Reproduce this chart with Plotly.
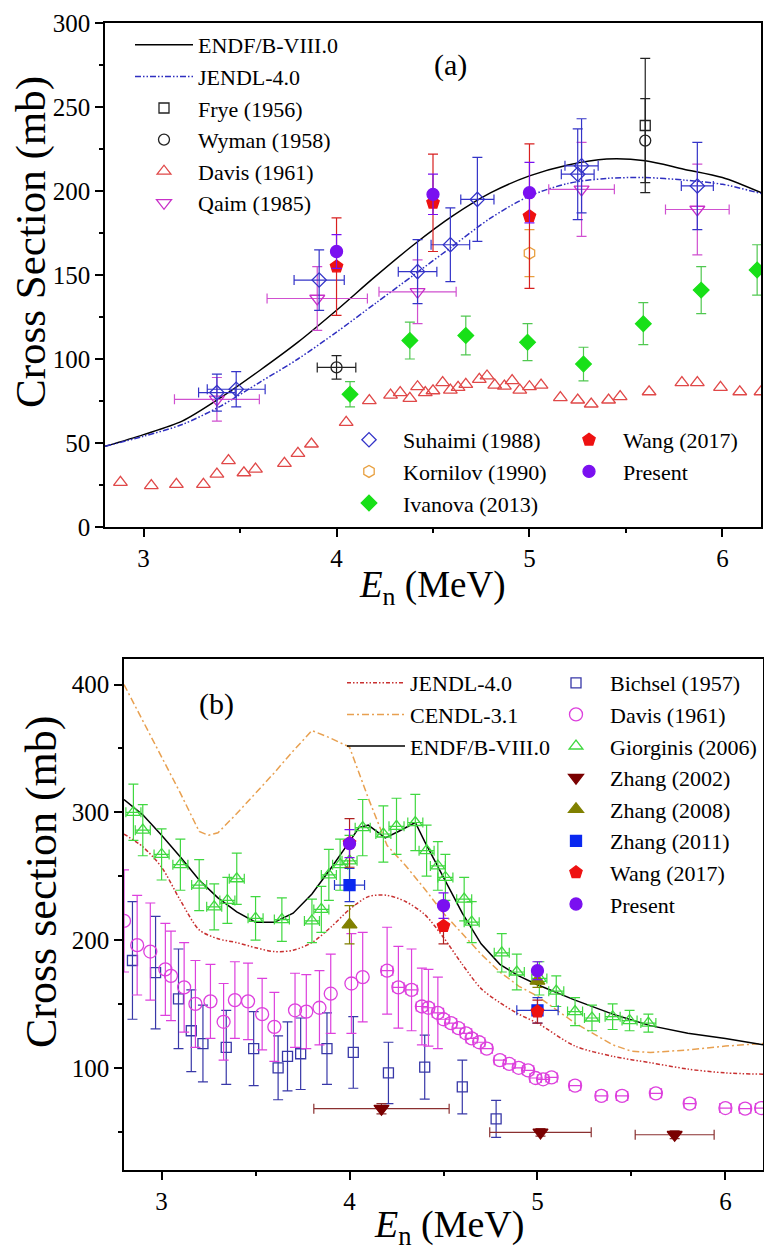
import plotly.graph_objects as go

SERIF = "Liberation Serif"

# ---------------- panel (a) data ----------------
e_grid_a = [2.8, 3.0, 3.2, 3.4, 3.6, 3.8, 4.0, 4.2, 4.4, 4.6, 4.8, 5.0, 5.2, 5.4, 5.6, 5.8, 6.0, 6.2]
endf_a = [48, 55, 63, 77, 93, 110, 129, 149, 168, 185, 199, 209, 215.5, 219, 218, 213, 208, 199]
jendl_a = [48, 54, 61, 72, 86, 100, 116, 133, 150, 167, 184, 197, 204.5, 207.5, 208, 206.5, 204, 198.5]

frye_E = [5.6]
frye_S = [239]
frye_dS = [40]

wyman_E = [4.0, 5.6]
wyman_S = [95, 230]
wyman_dS = [7, 25]
wyman_dE = [0.1, 0]

davis_a_E = [2.88, 3.04, 3.17, 3.31, 3.38, 3.44, 3.52, 3.58, 3.73, 3.80, 3.87, 4.05, 4.17,
             4.28, 4.33, 4.38, 4.42, 4.46, 4.50, 4.55, 4.59, 4.63, 4.67, 4.74, 4.78, 4.82,
             4.87, 4.91, 4.95, 5.00, 5.06, 5.16, 5.25, 5.32, 5.41, 5.47, 5.62, 5.79, 5.87,
             5.99, 6.09, 6.20]
davis_a_S = [26.6, 24.6, 25.4, 25.4, 31.5, 39.5, 32.3, 34.5, 37.9, 43.8, 49.4, 62.3, 75.2,
             78.5, 80.0, 76.6, 83.5, 80.0, 81.1, 85.9, 81.5, 83.1, 84.9, 87.9, 89.9, 84.5,
             83.9, 87.1, 81.5, 83.5, 84.5, 77.0, 75.6, 73.2, 75.6, 77.6, 80.5, 85.9, 85.9,
             83.1, 80.5, 80.5]

qaim_E = [3.38, 3.90, 4.42, 5.27, 5.87]
qaim_S = [76, 136, 140, 201, 189]
qaim_dS = [13, 19, 19, 28, 27]
qaim_dE = [0.22, 0.26, 0.20, 0.17, 0.165]

suhaimi_E = [3.38, 3.48, 3.91, 4.42, 4.59, 4.73, 5.25, 5.27, 5.87]
suhaimi_S = [80, 82, 147, 152, 168, 195, 210, 215, 203]
suhaimi_dS = [11, 10.5, 18, 19, 22, 25, 27, 28, 26]
suhaimi_dE = [0.095, 0.15, 0.13, 0.10, 0.10, 0.086, 0.085, 0.086, 0.083]

kornilov_E = [5.0]
kornilov_S = [163]
kornilov_dS = [14]

ivanova_E = [4.07, 4.38, 4.67, 4.99, 5.28, 5.59, 5.89, 6.18]
ivanova_S = [79, 111, 114, 110, 97, 121, 141, 153]
ivanova_dS = [7.5, 11, 11.5, 11, 10, 12.5, 14, 15]

wang_a_E = [4.0, 4.5, 5.0]
wang_a_S = [155, 193, 185]
wang_a_dS = [29, 29, 43]

present_a_E = [4.0, 4.5, 5.0]
present_a_S = [164, 198, 199]
present_a_dS = [10, 12, 18]

# ---------------- panel (b) data ----------------
jendl_b_E = [2.8, 2.9, 3.0, 3.1, 3.2, 3.3, 3.4, 3.5, 3.6, 3.7, 3.8, 3.9, 4.0, 4.1, 4.2, 4.3,
             4.4, 4.5, 4.6, 4.7, 4.8, 4.9, 5.0, 5.2, 5.4, 5.6, 5.8, 6.0, 6.2]
jendl_b = [283, 273, 257, 231, 208, 201, 198, 194, 191, 192, 198, 210, 224, 234, 235, 230,
           220, 202, 181, 162, 151, 142, 135, 117, 109, 104, 99, 96, 95]

cendl_b_E = [2.8, 2.9, 3.0, 3.1, 3.2, 3.25, 3.3, 3.4, 3.5, 3.6, 3.7, 3.8, 3.9, 4.0, 4.1, 4.2,
             4.3, 4.4, 4.5, 4.6, 4.7, 4.8, 4.9, 5.0, 5.2, 5.4, 5.5, 5.6, 5.8, 6.0, 6.2]
cendl_b = [400, 372, 343, 315, 285, 282, 284, 299, 315, 331, 348, 364, 358, 351, 311, 274,
           258, 240, 221, 205, 189, 175, 164, 156, 135, 118, 113, 112, 114, 117, 119]

endf_b_E = [2.8, 2.9, 3.0, 3.1, 3.2, 3.3, 3.4, 3.5, 3.6, 3.7, 3.8, 3.9, 4.0, 4.05, 4.1, 4.19,
            4.26, 4.35, 4.4, 4.5, 4.6, 4.7, 4.8, 4.9, 5.0, 5.2, 5.4, 5.6, 5.8, 6.0, 6.2]
endf_b = [310, 298, 282, 265, 247, 233, 222, 214, 214, 221, 236, 256, 277, 288, 290, 280,
          285, 292, 277, 249, 221, 197, 181, 172, 165, 153, 142, 133, 127, 123, 118]

bichsel_E = [2.845, 2.968, 3.09, 3.158, 3.22, 3.344, 3.49, 3.62, 3.67, 3.74, 3.88, 4.02,
             4.207, 4.40, 4.60, 4.78]
bichsel_S = [184, 174.5, 154, 129, 119, 116, 115, 100, 109, 111, 115, 112, 96, 100.5, 85, 60]
bichsel_dS = [46, 44, 39, 32, 30, 29, 29, 25, 27, 28, 28, 28, 24, 25, 21, 14.5]

davis_b_E = [2.80, 2.87, 2.94, 3.02, 3.05, 3.12, 3.18, 3.26, 3.33, 3.39, 3.46, 3.535, 3.60,
             3.71, 3.77, 3.84, 3.90, 4.01, 4.07, 4.20, 4.26, 4.33, 4.385, 4.42, 4.47, 4.50,
             4.54, 4.58, 4.62, 4.65, 4.69, 4.73, 4.80, 4.85, 4.90, 4.95, 4.99, 5.03, 5.075,
             5.20, 5.34, 5.45, 5.63, 5.81, 6.00, 6.105, 6.19]
davis_b_S = [215, 196, 191, 177, 172, 163, 150, 152, 136, 153, 152, 142, 132, 145, 144, 147,
             158, 166, 171, 176, 163, 161, 148, 147, 143, 138, 135, 131, 127, 123, 120, 115,
             106, 103, 100, 98, 92, 91, 92.5, 86, 78, 78, 80, 72, 68.5, 68, 68.5]
davis_b_dS = [40, 39, 38, 36, 35, 35, 34, 29, 30, 30, 30, 28, 27, 29, 29, 29, 31, 39, 35, 34,
              32, 32, 30, 30, 28, 0, 0, 0, 0, 0, 0, 0, 0, 0, 0, 0, 0, 0, 0, 0, 0, 0, 0, 0,
              0, 0, 0]
davis_b_dE = [0] * 19 + [0.03] * 28

giorginis_E = [2.85, 2.90, 3.00, 3.10, 3.20, 3.28, 3.35, 3.40, 3.50, 3.64, 3.80, 3.85, 3.89,
               3.95, 4.00, 4.07, 4.18, 4.25, 4.35, 4.41, 4.47, 4.51, 4.61, 4.65, 4.81, 4.89,
               5.01, 5.10, 5.20, 5.29, 5.40, 5.49, 5.59]
giorginis_S = [300, 286, 267, 259, 243, 226, 231, 248, 217, 216, 215, 224, 251, 259, 262,
               288, 283, 289, 292, 270, 258, 249, 232, 214, 190, 175, 170, 160, 144, 139,
               140, 137, 135]
giorginis_dS = [22, 20, 20, 20, 20, 18, 18, 20, 17, 17, 17, 18, 20, 20, 20, 22, 22, 22, 22,
                20, 19, 18, 17, 16, 15, 14, 13, 12, 11, 10, 10, 8, 7]
giorginis_dE = [0.04] * 33

zhang02_E = [4.17, 5.016, 5.73]
zhang02_S = [68, 49.5, 47.6]
zhang02_dS = [4, 3, 3]
zhang02_dE = [0.36, 0.27, 0.21]

zhang08_E = [4.0, 5.0]
zhang08_S = [212, 168]
zhang08_dS = [15, 5]

zhang11_E = [4.0, 5.0]
zhang11_S = [243, 145]
zhang11_dS = [13, 10]
zhang11_dE = [0.08, 0.11]

wang_b_E = [4.0, 4.5, 5.0]
wang_b_S = [276, 211, 144]
wang_b_dS = [19, 14, 9]

present_b_E = [4.0, 4.5, 5.0]
present_b_S = [275.5, 227, 176]
present_b_dS = [11, 10, 7]

fig = go.Figure()


def add_curve(E, S, name, color, dash, legend, xa, ya, width=1.5, shape="linear"):
    fig.add_trace(go.Scatter(
        x=E, y=S, mode="lines", name=name, legend=legend, xaxis=xa, yaxis=ya,
        line=dict(color=color, width=width, dash=dash, shape=shape, smoothing=0.8),
        hoverinfo="skip"))


def add_points(E, S, name, legend, xa, ya, symbol, color, size, dS=None, dE=None,
               ecolor=None, open_=True, lw=1.3, cap=5):
    n = len(E)
    dS = dS if dS is not None else [0] * n
    dE = dE if dE is not None else [0] * n
    ecolor = ecolor or color
    groups = {}
    for i in range(n):
        groups.setdefault((dS[i] > 0, dE[i] > 0), []).append(i)
    first = True
    for (hy, hx), idx in sorted(groups.items(), key=lambda kv: kv[1][0]):
        marker = dict(symbol=symbol + ("-open" if open_ else ""), size=size, color=color,
                      line=dict(width=lw, color=color))
        fig.add_trace(go.Scatter(
            x=[E[i] for i in idx], y=[S[i] for i in idx], mode="markers", name=name,
            legend=legend, legendgroup=name, showlegend=first, xaxis=xa, yaxis=ya,
            marker=marker, cliponaxis=True,
            error_y=dict(type="data", array=[dS[i] for i in idx], visible=hy,
                         color=ecolor, thickness=1.2, width=cap),
            error_x=dict(type="data", array=[dE[i] for i in idx], visible=hx,
                         color=ecolor, thickness=1.2, width=cap)))
        first = False


# ---- panel (a) ----
add_curve(e_grid_a, endf_a, "ENDF/B-VIII.0", "black", "solid", "legend", "x", "y",
          shape="spline")
add_curve(e_grid_a, jendl_a, "JENDL-4.0", "#2f2fc0", "6px,2px,1.5px,2px,1.5px,2px",
          "legend", "x", "y", shape="spline")
add_points(frye_E, frye_S, "Frye (1956)", "legend", "x", "y", "square", "#222222", 10,
           dS=frye_dS)
add_points(wyman_E, wyman_S, "Wyman (1958)", "legend", "x", "y", "circle", "#222222", 11,
           dS=wyman_dS, dE=wyman_dE)
add_points(davis_a_E, davis_a_S, "Davis (1961)", "legend", "x", "y", "triangle-up",
           "#e04848", 12)
add_points(qaim_E, qaim_S, "Qaim (1985)", "legend", "x", "y", "triangle-down", "#c830c8",
           13, dS=qaim_dS, dE=qaim_dE, ecolor="#d050d0")
add_points(suhaimi_E, suhaimi_S, "Suhaimi (1988)", "legend2", "x", "y", "diamond",
           "#3434c8", 11, dS=suhaimi_dS, dE=suhaimi_dE)
add_points(kornilov_E, kornilov_S, "Kornilov (1990)", "legend2", "x", "y", "hexagon",
           "#e8a040", 12, dS=kornilov_dS)
add_points(ivanova_E, ivanova_S, "Ivanova (2013)", "legend2", "x", "y", "diamond",
           "#18e018", 12, dS=ivanova_dS, ecolor="#50c850", open_=False)
add_points(wang_a_E, wang_a_S, "Wang (2017)", "legend3", "x", "y", "pentagon", "#ee1111",
           13, dS=wang_a_dS, ecolor="#d82020", open_=False)
add_points(present_a_E, present_a_S, "Present", "legend3", "x", "y", "circle", "#7a10f0",
           12, dS=present_a_dS, open_=False)

# ---- panel (b) ----
add_curve(jendl_b_E, jendl_b, "JENDL-4.0", "#c83030", "4px,2px,1.5px,2px,1.5px,2px",
          "legend4", "x2", "y2", shape="spline")
add_curve(cendl_b_E, cendl_b, "CENDL-3.1", "#e8a050", "7px,3px,2px,3px", "legend4",
          "x2", "y2")
add_curve(endf_b_E, endf_b, "ENDF/B-VIII.0", "black", "solid", "legend4", "x2", "y2")
add_points(bichsel_E, bichsel_S, "Bichsel (1957)", "legend5", "x2", "y2", "square",
           "#3838a8", 10, dS=bichsel_dS)
add_points(davis_b_E, davis_b_S, "Davis (1961)", "legend5", "x2", "y2", "circle",
           "#dd40dd", 13, dS=davis_b_dS, dE=davis_b_dE)
add_points(giorginis_E, giorginis_S, "Giorginis (2006)", "legend5", "x2", "y2",
           "triangle-up", "#40d840", 12, dS=giorginis_dS, dE=giorginis_dE)
add_points(zhang02_E, zhang02_S, "Zhang (2002)", "legend5", "x2", "y2", "triangle-down",
           "#7a0000", 13, dS=zhang02_dS, dE=zhang02_dE, ecolor="#8a3030", open_=False)
add_points(zhang08_E, zhang08_S, "Zhang (2008)", "legend5", "x2", "y2", "triangle-up",
           "#808000", 13, dS=zhang08_dS, open_=False)
add_points(zhang11_E, zhang11_S, "Zhang (2011)", "legend5", "x2", "y2", "square",
           "#0a28f0", 11, dS=zhang11_dS, dE=zhang11_dE, ecolor="#2838c8", open_=False)
add_points(wang_b_E, wang_b_S, "Wang (2017)", "legend5", "x2", "y2", "pentagon",
           "#ee1111", 13, dS=wang_b_dS, ecolor="#b02020", open_=False)
add_points(present_b_E, present_b_S, "Present", "legend5", "x2", "y2", "circle",
           "#7a10f0", 12, dS=present_b_dS, open_=False)

W, H = 764, 1253


def px(x):
    return x / W


def py(y):
    return 1 - y / H


axis_base = dict(showline=True, linecolor="black", linewidth=1.5, mirror=True,
                 ticks="outside", ticklen=8, tickwidth=1.5, tickcolor="black",
                 showgrid=False, zeroline=False, automargin=False,
                 tickfont=dict(family=SERIF, size=25, color="black"))


def minor(step):
    return dict(ticks="outside", ticklen=4, tickwidth=1.5, tickcolor="black",
                dtick=step, tick0=0)


legend_base = dict(bgcolor="rgba(0,0,0,0)", borderwidth=0, xanchor="left",
                   yanchor="top", tracegroupgap=0, itemwidth=58,
                   font=dict(family=SERIF, size=22, color="black"))

fig.update_layout(
    width=W, height=H, margin=dict(l=0, r=0, t=0, b=0, autoexpand=False),
    paper_bgcolor="white", plot_bgcolor="white",
    font=dict(family=SERIF, color="black"),
    xaxis=dict(domain=[px(105), px(761)], range=[2.8, 6.2], anchor="y",
               tick0=0, dtick=1, minor=minor(0.5), **axis_base),
    yaxis=dict(domain=[py(527), py(23)], range=[0, 300], anchor="x", tick0=0, dtick=50,
               minor=minor(25), **axis_base),
    xaxis2=dict(domain=[px(124), px(763)], range=[2.8, 6.2], anchor="y2",
                tick0=0, dtick=1, minor=minor(0.5), **axis_base),
    yaxis2=dict(domain=[py(1170), py(659)], range=[20, 420], anchor="x2", tick0=0,
                dtick=100, minor=minor(50), **axis_base),
    legend=dict(x=px(130), y=py(24), **legend_base),
    legend2=dict(x=px(335), y=py(419), **legend_base),
    legend3=dict(x=px(555), y=py(419), **legend_base),
    legend4=dict(x=px(342), y=py(662), **legend_base),
    legend5=dict(x=px(542), y=py(662), **legend_base),
    annotations=[
        dict(text="(a)", x=4.59, y=275, xref="x", yref="y", showarrow=False,
             font=dict(family=SERIF, size=30, color="black")),
        dict(text="(b)", x=3.29, y=385, xref="x2", yref="y2", showarrow=False,
             font=dict(family=SERIF, size=30, color="black")),
        dict(text="<i>E</i><sub>n</sub> (MeV)", x=px(432), y=py(588), xref="paper",
             yref="paper", showarrow=False, xanchor="center", yanchor="middle",
             font=dict(family=SERIF, size=37, color="black")),
        dict(text="<i>E</i><sub>n</sub> (MeV)", x=px(449), y=py(1227), xref="paper",
             yref="paper", showarrow=False, xanchor="center", yanchor="middle",
             font=dict(family=SERIF, size=38, color="black")),
        dict(text="Cross Section (mb)", x=px(31), y=py(242), xref="paper", yref="paper",
             showarrow=False, textangle=-90, xanchor="center", yanchor="middle",
             font=dict(family=SERIF, size=43, color="black")),
        dict(text="Cross section (mb)", x=px(41), y=py(882), xref="paper", yref="paper",
             showarrow=False, textangle=-90, xanchor="center", yanchor="middle",
             font=dict(family=SERIF, size=44, color="black")),
    ],
)

fig.write_html("out.html")
